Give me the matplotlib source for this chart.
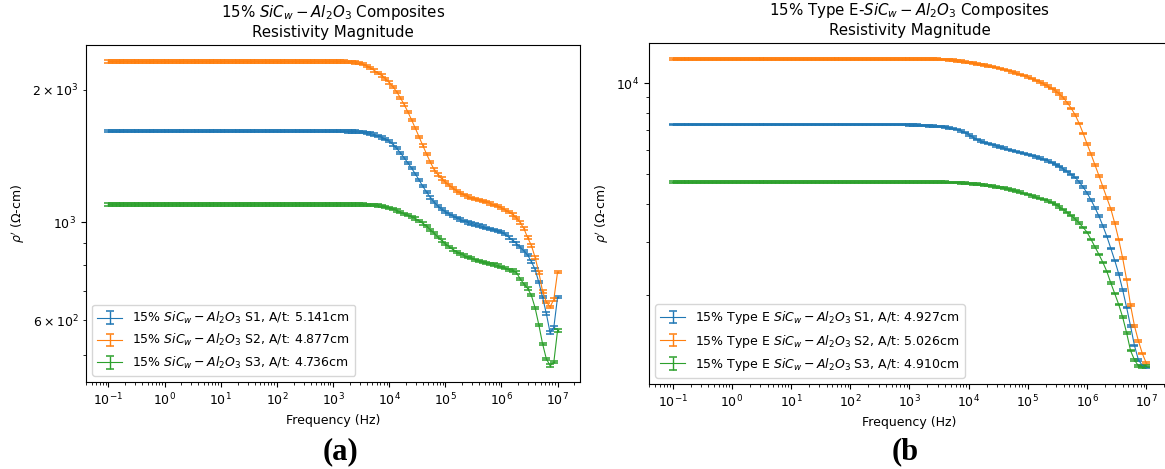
import numpy as np
import matplotlib.pyplot as plt

plt.rcParams['font.size'] = 9

# impedance sweep, 15 points per decade from 0.1 Hz to 10 MHz
freq = np.logspace(-1, 7, 121)

# resistivity magnitude (ohm-cm), one row per decade (10^-1 ... 10^6), last value at 10 MHz
# (a) 15% SiCw-Al2O3
rho_a_s1 = [1611, 1611, 1611, 1611, 1611, 1611, 1611, 1611, 1611, 1611, 1611, 1611, 1611, 1611, 1611,
            1611, 1611, 1611, 1611, 1611, 1611, 1611, 1611, 1611, 1611, 1611, 1611, 1611, 1611, 1611,
            1611, 1611, 1611, 1611, 1611, 1611, 1611, 1611, 1611, 1611, 1611, 1611, 1611, 1611, 1611,
            1611, 1611, 1611, 1611, 1611, 1611, 1611, 1611, 1611, 1611, 1611, 1611, 1611, 1611, 1611,
            1611, 1611, 1611, 1611, 1610, 1610, 1609, 1607, 1603, 1598, 1592, 1584, 1572, 1560, 1547,
            1530, 1504, 1474, 1440, 1403, 1366, 1328, 1289, 1249, 1208, 1172, 1140, 1112, 1090, 1072,
            1058, 1046, 1035, 1025, 1015, 1007, 1000, 995, 989, 984, 979, 973, 968, 963, 957,
            950, 940, 925, 910, 896, 878, 862, 843, 815, 782, 731, 676, 621, 562, 577,
            676]
rho_a_s2 = [2322, 2322, 2322, 2322, 2322, 2322, 2322, 2322, 2322, 2322, 2322, 2322, 2322, 2322, 2322,
            2322, 2322, 2322, 2322, 2322, 2322, 2322, 2322, 2322, 2322, 2322, 2322, 2322, 2322, 2322,
            2322, 2322, 2322, 2322, 2322, 2322, 2322, 2322, 2322, 2322, 2322, 2322, 2322, 2322, 2322,
            2322, 2322, 2322, 2322, 2322, 2322, 2322, 2322, 2322, 2322, 2322, 2322, 2322, 2322, 2322,
            2322, 2322, 2322, 2321, 2319, 2316, 2311, 2301, 2288, 2268, 2244, 2216, 2185, 2156, 2122,
            2080, 2035, 1982, 1920, 1854, 1784, 1710, 1637, 1565, 1495, 1431, 1371, 1320, 1285, 1258,
            1235, 1215, 1197, 1180, 1166, 1155, 1145, 1138, 1132, 1125, 1118, 1112, 1105, 1097, 1089,
            1080, 1068, 1055, 1042, 1025, 1000, 969, 924, 887, 833, 770, 697, 660, 643, 668,
            771]
rho_a_s3 = [1099, 1099, 1099, 1099, 1099, 1099, 1099, 1099, 1099, 1099, 1099, 1099, 1099, 1099, 1099,
            1099, 1099, 1099, 1099, 1099, 1099, 1099, 1099, 1099, 1099, 1099, 1099, 1099, 1099, 1099,
            1099, 1099, 1099, 1099, 1099, 1099, 1099, 1099, 1099, 1099, 1099, 1099, 1099, 1099, 1099,
            1099, 1099, 1099, 1099, 1099, 1099, 1099, 1099, 1099, 1099, 1099, 1099, 1099, 1099, 1099,
            1099, 1099, 1099, 1099, 1099, 1099, 1099, 1099, 1098, 1097, 1096, 1094, 1092, 1089, 1085,
            1080, 1072, 1064, 1055, 1046, 1038, 1030, 1021, 1009, 995, 980, 963, 945, 927, 910,
            895, 881, 868, 858, 849, 841, 835, 829, 823, 818, 814, 810, 806, 802, 798,
            793, 787, 781, 778, 770, 745, 725, 708, 683, 640, 585, 530, 490, 473, 481,
            568]

# (b) 15% Type E SiCw-Al2O3
rho_b_s1 = [7300, 7300, 7300, 7300, 7300, 7300, 7300, 7300, 7300, 7300, 7300, 7300, 7300, 7300, 7300,
            7300, 7300, 7300, 7300, 7300, 7300, 7300, 7300, 7300, 7300, 7300, 7300, 7300, 7300, 7300,
            7300, 7300, 7300, 7300, 7300, 7300, 7300, 7300, 7300, 7300, 7300, 7300, 7300, 7300, 7300,
            7300, 7300, 7300, 7300, 7300, 7300, 7300, 7300, 7300, 7300, 7300, 7300, 7300, 7300, 7300,
            7290, 7280, 7270, 7260, 7250, 7238, 7225, 7208, 7188, 7160, 7128, 7088, 7040, 6970, 6880,
            6760, 6640, 6530, 6450, 6383, 6320, 6270, 6217, 6160, 6100, 6047, 5995, 5950, 5903, 5860,
            5820, 5767, 5713, 5660, 5607, 5547, 5480, 5400, 5310, 5210, 5110, 5000, 4880, 4720, 4540,
            4340, 4115, 3880, 3640, 3380, 3120, 2850, 2600, 2350, 2080, 1820, 1580, 1360, 1220, 1170,
            1150]
rho_b_s2 = [12000, 12000, 12000, 12000, 12000, 12000, 12000, 12000, 12000, 12000, 12000, 12000, 12000, 12000, 12000,
            12000, 12000, 12000, 12000, 12000, 12000, 12000, 12000, 12000, 12000, 12000, 12000, 12000, 12000, 12000,
            12000, 12000, 12000, 12000, 12000, 12000, 12000, 12000, 12000, 12000, 12000, 12000, 12000, 12000, 12000,
            12000, 12000, 12000, 12000, 12000, 12000, 12000, 12000, 12000, 12000, 12000, 12000, 12000, 12000, 12000,
            12000, 12000, 12000, 12000, 12000, 12000, 12000, 12000, 11995, 11980, 11955, 11925, 11870, 11820, 11765,
            11710, 11657, 11600, 11540, 11480, 11417, 11350, 11270, 11187, 11100, 11007, 10910, 10810, 10703, 10593,
            10480, 10360, 10227, 10080, 9927, 9773, 9620, 9430, 9210, 8950, 8620, 8260, 7850, 7360, 6830,
            6300, 5830, 5370, 4950, 4550, 4180, 3850, 3450, 3050, 2650, 2250, 1850, 1580, 1410, 1280,
            1190]
rho_b_s3 = [4710, 4710, 4710, 4710, 4710, 4710, 4710, 4710, 4710, 4710, 4710, 4710, 4710, 4710, 4710,
            4710, 4710, 4710, 4710, 4710, 4710, 4710, 4710, 4710, 4710, 4710, 4710, 4710, 4710, 4710,
            4710, 4710, 4710, 4710, 4710, 4710, 4710, 4710, 4710, 4710, 4710, 4710, 4710, 4710, 4710,
            4710, 4710, 4710, 4710, 4710, 4710, 4710, 4710, 4710, 4710, 4710, 4710, 4710, 4710, 4710,
            4710, 4710, 4710, 4710, 4710, 4710, 4710, 4710, 4710, 4710, 4708, 4704, 4697, 4690, 4681,
            4670, 4657, 4642, 4625, 4608, 4590, 4570, 4550, 4528, 4500, 4473, 4445, 4410, 4370, 4330,
            4290, 4250, 4210, 4170, 4130, 4087, 4040, 3973, 3903, 3830, 3743, 3653, 3560, 3453, 3340,
            3220, 3050, 2880, 2720, 2560, 2390, 2190, 2020, 1860, 1690, 1500, 1310, 1220, 1165, 1155,
            1165]

rel_err = 0.006

labels_a = [r"15% $SiC_w-Al_2O_3$ S1, A/t: 5.141cm",
            r"15% $SiC_w-Al_2O_3$ S2, A/t: 4.877cm",
            r"15% $SiC_w-Al_2O_3$ S3, A/t: 4.736cm"]
labels_b = [r"15% Type E $SiC_w-Al_2O_3$ S1, A/t: 4.927cm",
            r"15% Type E $SiC_w-Al_2O_3$ S2, A/t: 5.026cm",
            r"15% Type E $SiC_w-Al_2O_3$ S3, A/t: 4.910cm"]
title_a = "15% $SiC_w-Al_2O_3$ Composites\nResistivity Magnitude"
title_b = "15% Type E-$SiC_w-Al_2O_3$ Composites\nResistivity Magnitude"

W, H = 1165, 469
fig = plt.figure(figsize=(W / 100, H / 100), dpi=100)
ax1 = fig.add_axes([86 / W, 1 - 382 / H, (580 - 86) / W, (382 - 45) / H])
ax2 = fig.add_axes([649 / W, 1 - 384 / H, (1170 - 649) / W, (384 - 43) / H])

panels = [(ax1, [rho_a_s1, rho_a_s2, rho_a_s3], labels_a, title_a),
          (ax2, [rho_b_s1, rho_b_s2, rho_b_s3], labels_b, title_b)]

for ax, series, labels, title in panels:
    for rho, lab in zip(series, labels):
        rho = np.array(rho, dtype=float)
        ax.errorbar(freq, rho, yerr=rho * rel_err, label=lab,
                    linewidth=0.8, elinewidth=1, capsize=3, capthick=1.1)
    ax.set_xscale('log')
    ax.set_yscale('log')
    ax.set_title(title, fontsize=10.8)
    ax.set_xlabel("Frequency (Hz)")
    ax.set_ylabel(r"$\rho'$ ($\Omega$-cm)")
    ax.legend(loc='lower left')

fig.text(340 / W, 1 - 452 / H, "(a)", fontsize=22, fontweight='bold',
         family='Liberation Serif', ha='center', va='center')
fig.text(892 / W, 1 - 452 / H, "(b", fontsize=22, fontweight='bold',
         family='Liberation Serif', ha='left', va='center')

fig.savefig("out.png", dpi=100)
